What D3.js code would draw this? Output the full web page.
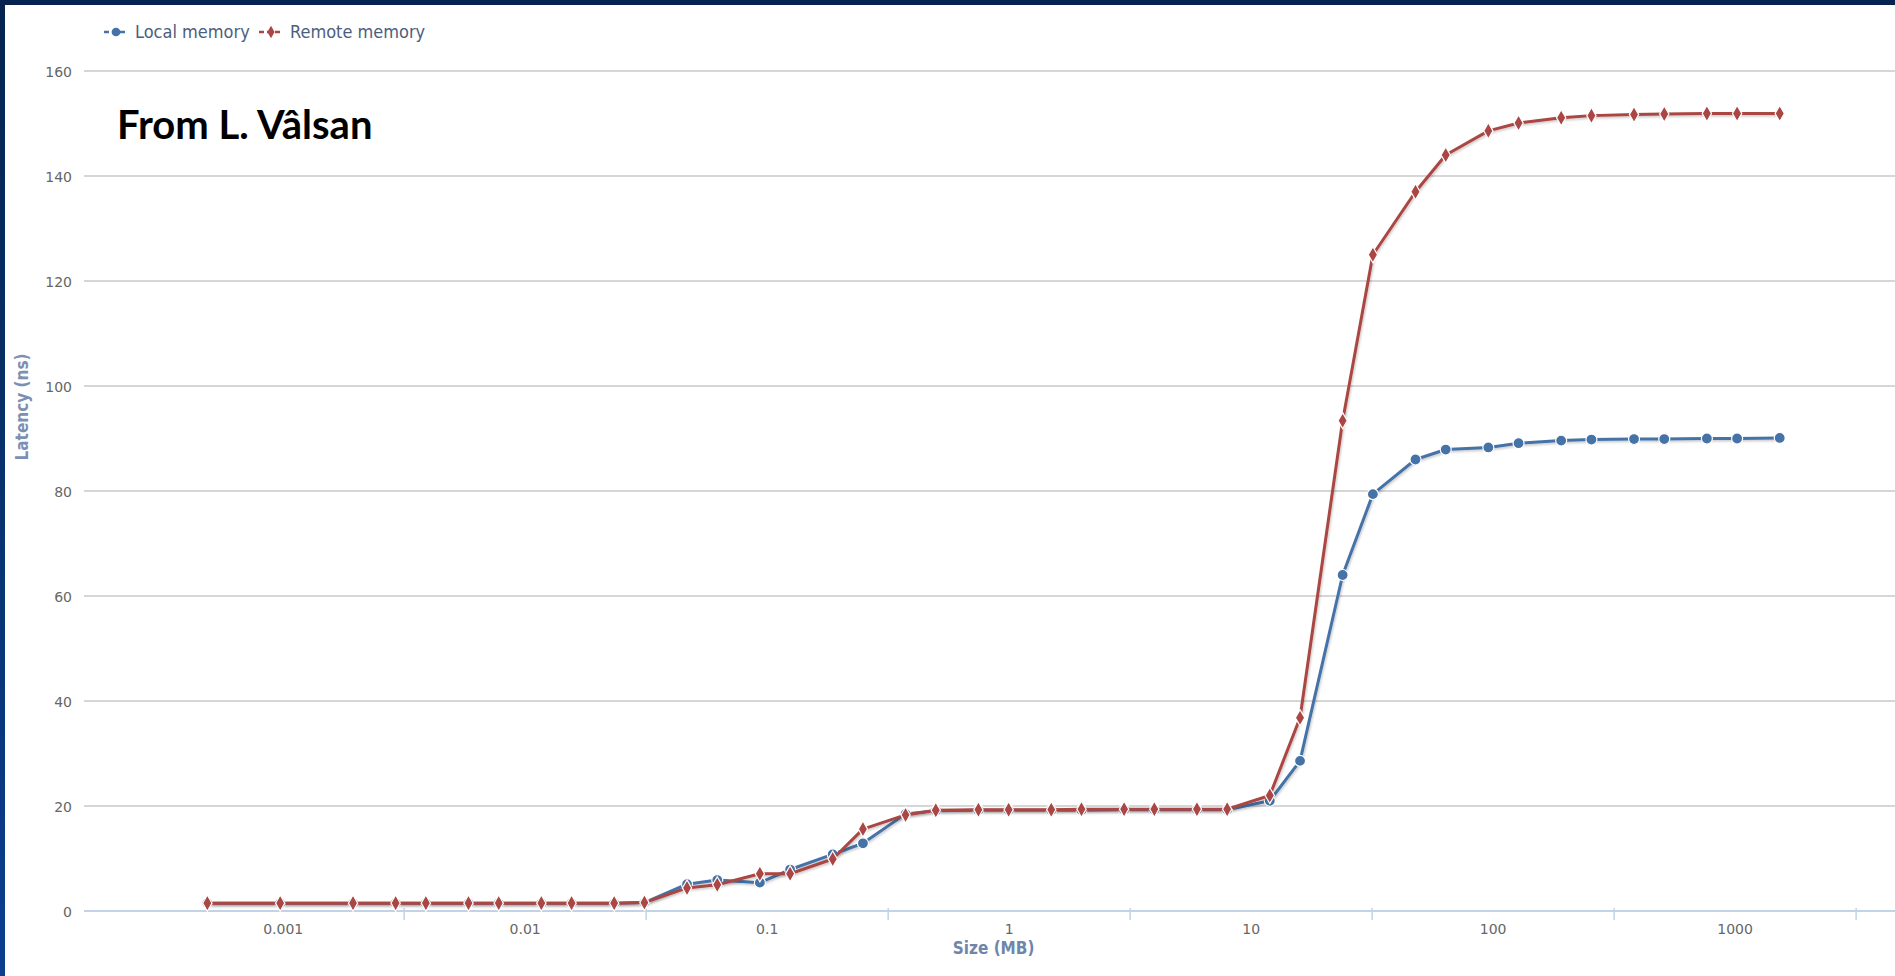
<!DOCTYPE html>
<html>
<head>
<meta charset="utf-8">
<script src="https://cdn.jsdelivr.net/npm/d3@7"></script>
<style>
  html, body { margin: 0; padding: 0; background: #ffffff; }
  svg { display: block; }
</style>
</head>
<body>
<svg id="chart" width="1895" height="976"></svg>
<script>
// Buffer sizes in MB (0.5 KB .. 1.5 GB)
const sizesMB = [
  0.00048828125, 0.0009765625, 0.001953125, 0.0029296875, 0.00390625,
  0.005859375, 0.0078125, 0.01171875, 0.015625, 0.0234375, 0.03125,
  0.046875, 0.0625, 0.09375, 0.125, 0.1875, 0.25, 0.375, 0.5, 0.75,
  1, 1.5, 2, 3, 4, 6, 8, 12, 16, 24, 32, 48, 64, 96, 128, 192, 256,
  384, 512, 768, 1024, 1536
];

// Access latency in ns
const localLatency = [
  1.5, 1.5, 1.5, 1.5, 1.5, 1.5, 1.5, 1.5, 1.5, 1.5, 1.6,
  5.1, 5.9, 5.4, 7.9, 10.8, 12.9, 18.5, 19.1, 19.2,
  19.2, 19.2, 19.2, 19.3, 19.3, 19.3, 19.3, 21.0, 28.6, 64.0, 79.4,
  86.0, 87.9, 88.3, 89.1, 89.6, 89.8, 89.9, 89.9, 90.0, 90.0, 90.1
];
const remoteLatency = [
  1.5, 1.5, 1.5, 1.5, 1.5, 1.5, 1.5, 1.5, 1.5, 1.5, 1.6,
  4.4, 5.0, 7.1, 7.1, 9.9, 15.6, 18.3, 19.2, 19.3,
  19.3, 19.3, 19.4, 19.4, 19.4, 19.4, 19.4, 22.0, 36.8, 93.4, 125.0,
  137.0, 144.0, 148.6, 150.1, 151.1, 151.5, 151.7, 151.8, 151.9, 151.9, 151.9
];

const seriesNames = ["Local memory", "Remote memory"];
const seriesColors = ["#4572A7", "#AA4643"];

const xLabelValues = [0.001, 0.01, 0.1, 1, 10, 100, 1000];
const xLabelText = ["0.001", "0.01", "0.1", "1", "10", "100", "1000"];
const xTickValues = [0.0031623, 0.031623, 0.31623, 3.1623, 31.623, 316.23, 3162.3];
const yTickValues = [0, 20, 40, 60, 80, 100, 120, 140, 160];

const svg = d3.select("#chart");
const W = 1895, H = 976;
const plot = { left: 84, right: 1895, top: 71, bottom: 911 };

// frame: dark blue slide border on top and left
const defs = svg.append("defs");
const grad = defs.append("linearGradient").attr("id", "frameGrad")
  .attr("x1", 0).attr("y1", 0).attr("x2", 0).attr("y2", 1);
grad.append("stop").attr("offset", "0%").attr("stop-color", "#05234e");
grad.append("stop").attr("offset", "100%").attr("stop-color", "#0b3f8f");

const shadow = defs.append("filter").attr("id", "lineShadow")
  .attr("x", "-5%").attr("y", "-5%").attr("width", "110%").attr("height", "110%");
shadow.append("feDropShadow").attr("dx", 1).attr("dy", 1.5)
  .attr("stdDeviation", 1.2).attr("flood-color", "#000").attr("flood-opacity", 0.22);

svg.append("rect").attr("x", 0).attr("y", 0).attr("width", W).attr("height", H).attr("fill", "#ffffff");

const x = d3.scaleLog().domain([0.000151, 4600]).range([plot.left, plot.right]);
const y = d3.scaleLinear().domain([0, 160]).range([plot.bottom, plot.top]);

// horizontal grid lines
svg.append("g").selectAll("line")
  .data(yTickValues.filter(d => d > 0))
  .join("line")
  .attr("x1", plot.left).attr("x2", plot.right)
  .attr("y1", d => y(d)).attr("y2", d => y(d))
  .attr("stroke", "#c9c9c9").attr("stroke-width", 1.6);

// y axis labels
const yAxis = d3.axisLeft(y).tickValues(yTickValues).tickSize(0).tickPadding(0);
const yg = svg.append("g").attr("transform", `translate(72,0)`).call(yAxis);
yg.select(".domain").remove();
yg.selectAll("text")
  .attr("fill", "#666666")
  .attr("font-family", "DejaVu Sans, Verdana, sans-serif")
  .attr("font-size", 14)
  .attr("dy", "0.36em");

// x axis line, ticks between decades, decade labels
const xAxisLine = d3.axisBottom(x).tickValues(xTickValues).tickSize(9).tickFormat("");
const xg = svg.append("g").attr("transform", `translate(0,${plot.bottom})`).call(xAxisLine);
xg.select(".domain").attr("stroke", "#c2d3e6").attr("stroke-width", 2)
  .attr("d", `M${plot.left},0H${plot.right}`);
xg.selectAll(".tick line").attr("stroke", "#c2d3e6").attr("stroke-width", 1.5)
  .attr("y1", -3);

const xLab = d3.axisBottom(x).tickValues(xLabelValues).tickSize(0).tickPadding(0)
  .tickFormat((d, i) => xLabelText[i]);
const xl = svg.append("g").attr("transform", `translate(0,${plot.bottom + 23})`).call(xLab);
xl.select(".domain").remove();
xl.selectAll("text")
  .attr("fill", "#666666")
  .attr("font-family", "DejaVu Sans, Verdana, sans-serif")
  .attr("font-size", 14)
  .attr("dy", 0);

// axis titles
const titleFont = "'Liberation Sans Narrow', 'DejaVu Sans Condensed', 'Roboto Condensed', sans-serif";
svg.append("text")
  .attr("x", x(1) - 15).attr("y", 954)
  .attr("text-anchor", "middle")
  .attr("fill", "#6f86ab").attr("font-family", titleFont).attr("font-size", 17).attr("font-weight", "bold")
  .text("Size (MB)");
svg.append("text")
  .attr("transform", "translate(28,407) rotate(-90)")
  .attr("text-anchor", "middle")
  .attr("fill", "#7b90b3").attr("font-family", titleFont).attr("font-size", 17).attr("font-weight", "bold")
  .text("Latency (ns)");

// series
const seriesData = [localLatency, remoteLatency];
const line = d3.line().x(d => x(d[0])).y(d => y(d[1]));

seriesData.forEach((vals, si) => {
  const pts = sizesMB.map((s, i) => [s, vals[i]]);
  const g = svg.append("g");
  g.append("path")
    .attr("d", line(pts))
    .attr("fill", "none")
    .attr("stroke", seriesColors[si])
    .attr("stroke-width", 3)
    .attr("stroke-linejoin", "round")
    .attr("filter", "url(#lineShadow)");
  const sym = si === 0 ? d3.symbolCircle : d3.symbolDiamond;
  const size = si === 0 ? 95 : 75;
  g.selectAll("path.marker")
    .data(pts)
    .join("path")
    .attr("class", "marker")
    .attr("transform", d => `translate(${x(d[0])},${y(d[1])})`)
    .attr("d", d3.symbol(sym, size))
    .attr("fill", seriesColors[si])
    .attr("stroke", "#ffffff")
    .attr("stroke-width", 1.2);
});

// legend
const legendFont = "'Liberation Sans Narrow', 'DejaVu Sans Condensed', 'Roboto Condensed', sans-serif";
const legendItems = [
  { x: 104, name: seriesNames[0], color: seriesColors[0], sym: d3.symbolCircle, size: 60 },
  { x: 259, name: seriesNames[1], color: seriesColors[1], sym: d3.symbolDiamond, size: 45 }
];
const lg = svg.append("g");
legendItems.forEach(it => {
  const gi = lg.append("g").attr("transform", `translate(${it.x},32)`);
  gi.append("line").attr("x1", 0).attr("x2", 24).attr("y1", 0).attr("y2", 0)
    .attr("stroke", it.color).attr("stroke-width", 2.5).attr("stroke-dasharray", "5,3");
  gi.append("path").attr("transform", "translate(12,0)")
    .attr("d", d3.symbol(it.sym, it.size)).attr("fill", it.color);
  gi.append("text").attr("x", 31).attr("y", 6)
    .attr("fill", "#4b5e7e").attr("font-family", legendFont).attr("font-size", 18).attr("font-weight", "normal")
    .text(it.name);
});

// attribution
svg.append("text")
  .attr("x", 117).attr("y", 139)
  .attr("fill", "#000000").attr("font-family", "Lato, 'Open Sans', sans-serif")
  .attr("font-size", 40).attr("font-weight", "bold")
  .text("From L. Vâlsan");

// slide border
svg.append("rect").attr("x", 0).attr("y", 0).attr("width", 5).attr("height", H).attr("fill", "url(#frameGrad)");
svg.append("rect").attr("x", 0).attr("y", 0).attr("width", W).attr("height", 5).attr("fill", "#05234e");
</script>
</body>
</html>
